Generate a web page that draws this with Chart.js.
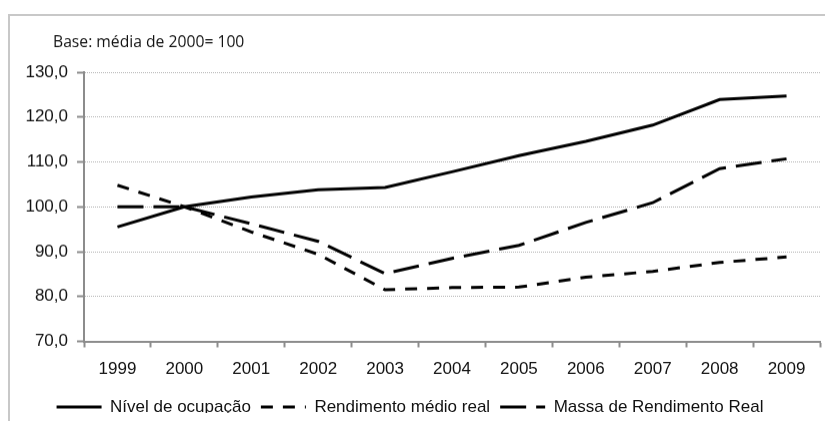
<!DOCTYPE html>
<html>
<head>
<meta charset="utf-8">
<script src="https://cdn.jsdelivr.net/npm/chart.js@4.4.1/dist/chart.umd.min.js"></script>
<style>
  html, body { margin: 0; padding: 0; background: #fff; }
  #frame { position: absolute; left: 8px; top: 14px; width: 900px; height: 500px;
           border-left: 2px solid #c8c8c8; border-top: 2px solid #c8c8c8; }
  #wrap { position: absolute; left: 0; top: 0; width: 825px; height: 421px; }
</style>
</head>
<body>
<div id="frame"></div>
<div id="wrap"><canvas id="myChart1"></canvas></div>
<script>
// dados (base: média de 2000 = 100)
var anos = ['1999', '2000', '2001', '2002', '2003', '2004', '2005', '2006', '2007', '2008', '2009'];
var nivelOcupacao = [95.5, 100.0, 102.2, 103.8, 104.3, 107.8, 111.4, 114.6, 118.2, 123.9, 124.7];
var rendimentoMedio = [104.8, 100.0, 94.4, 89.4, 81.5, 82.0, 82.1, 84.3, 85.6, 87.6, 88.8];
var massaRendimento = [100.0, 100.0, 96.2, 92.3, 85.1, 88.5, 91.4, 96.5, 100.9, 108.5, 110.7];
var nomesSeries = ['Nível de ocupação', 'Rendimento médio real', 'Massa de Rendimento Real'];
var notaBase = 'Base: média de 2000= 100';

var fonte = 'Arial, "Liberation Sans", sans-serif';

// texto "Base: ..." acima do grafico
var notaPlugin = {
    id: 'nota',
    afterDraw: function(chart) {
        var ctx = chart.ctx;
        ctx.save();
        ctx.font = '15.7px "Open Sans", Lato, sans-serif';
        ctx.fillStyle = '#111';
        ctx.textBaseline = 'alphabetic';
        ctx.fillText(notaBase, 53, 47);
        ctx.restore();
    }
};

function serie(nome, valores, dash) {
    return {
        label: nome,
        data: valores,
        borderColor: '#000',
        backgroundColor: '#000',
        borderWidth: 3,
        borderDash: dash,
        borderCapStyle: 'butt',
        tension: 0,
        pointRadius: 0,
        fill: false
    };
}

var ctx1 = document.getElementById('myChart1').getContext('2d');
var myNewChart1 = new Chart(ctx1, {
    type: 'line',
    data: {
        labels: anos,
        datasets: [
            serie(nomesSeries[0], nivelOcupacao, []),
            serie(nomesSeries[1], rendimentoMedio, [12, 10]),
            serie(nomesSeries[2], massaRendimento, [26, 10])
        ]
    },
    options: {
        responsive: false,
        animation: false,
        layout: { padding: { top: 72, right: 5, left: 0, bottom: -12 } },
        plugins: {
            tooltip: { enabled: false },
            legend: {
                position: 'bottom',
                labels: {
                    usePointStyle: true,
                    pointStyle: 'line',
                    pointStyleWidth: 45,
                    boxHeight: 17,
                    padding: 10,
                    color: '#111',
                    font: { family: fonte, size: 17 },
                    generateLabels: function(chart) {
                        var itens = Chart.defaults.plugins.legend.labels.generateLabels(chart);
                        itens.forEach(function(it) {
                            var ds = chart.data.datasets[it.datasetIndex];
                            it.lineDash = ds.borderDash;
                            it.lineWidth = ds.borderWidth;
                            it.strokeStyle = ds.borderColor;
                        });
                        return itens;
                    }
                }
            }
        },
        scales: {
            x: {
                offset: true,
                grid: { offset: true, drawOnChartArea: false, drawTicks: true, tickLength: 6, tickColor: '#8c8c8c', tickWidth: 2 },
                border: { color: '#8c8c8c', width: 2 },
                ticks: { color: '#111', padding: 12, maxRotation: 0, font: { family: fonte, size: 17 } },
                afterFit: function(scale) { scale.height = 47; }
            },
            y: {
                min: 70,
                max: 130,
                ticks: {
                    stepSize: 10,
                    color: '#111',
                    padding: 9,
                    font: { family: fonte, size: 17 },
                    callback: function(v) { return v.toFixed(1).replace('.', ','); }
                },
                grid: { color: '#b4b4b4', lineWidth: 1, tickLength: 7, tickColor: '#8c8c8c', tickWidth: 2 },
                border: { color: '#8c8c8c', width: 2, dash: [1, 1] },
                afterFit: function(scale) { scale.width = 84; }
            }
        }
    },
    plugins: [notaPlugin]
});
myNewChart1.resize(825, 421);
</script>
</body>
</html>
